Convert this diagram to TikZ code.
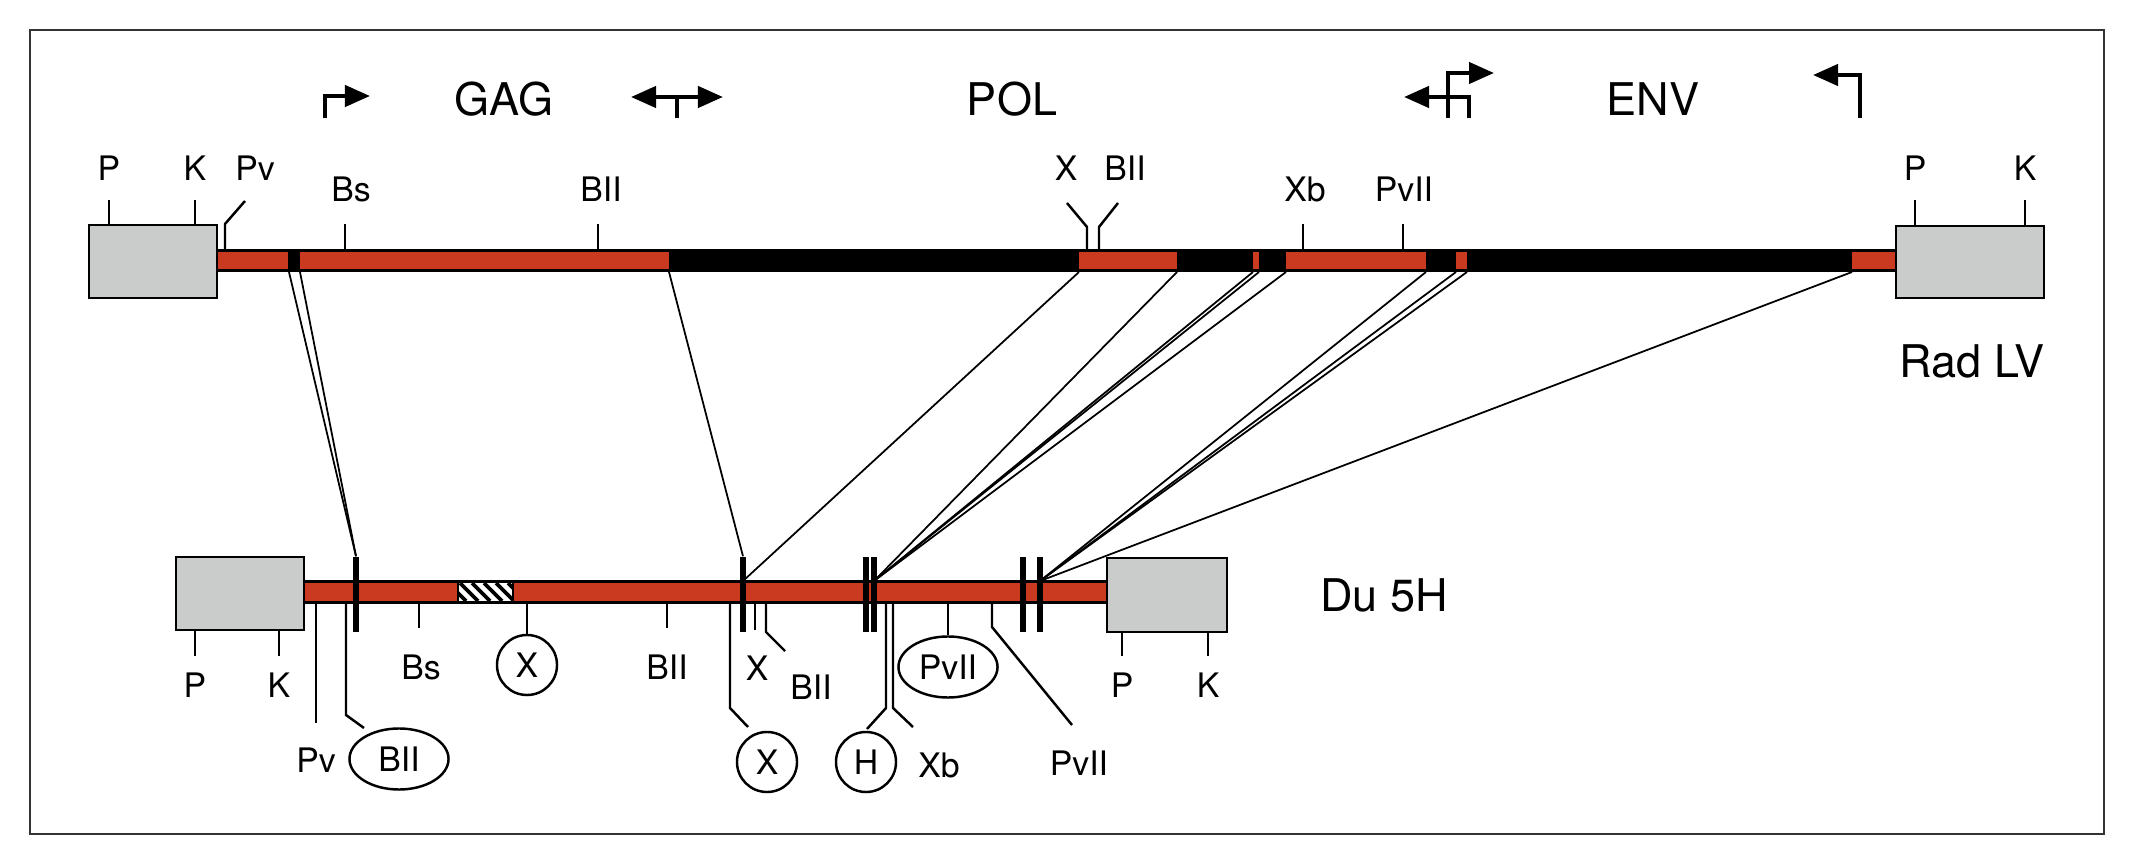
\documentclass[tikz,border=0pt]{standalone}
\usepackage{fontspec}
\setmainfont{TeX Gyre Heros}
\usetikzlibrary{arrows.meta,shapes.geometric}
\definecolor{orfred}{HTML}{C93A20}
\definecolor{ltrgray}{HTML}{C9CCCB}
\tikzset{
  ltr/.style={draw=black,line width=0.8pt,fill=ltrgray},
  site/.style={line width=0.7pt},
  link/.style={line width=0.5pt},
  cut/.style={fill=black,inner sep=0pt,minimum width=0.052cm,minimum height=0.75cm},
  lbl/.style={inner sep=0pt,font=\fontsize{9.6}{10}\selectfont},
  gene/.style={inner sep=0pt,font=\fontsize{12.8}{14}\selectfont},
  ring/.style={draw,circle,line width=0.7pt,minimum size=0.6cm,inner sep=0pt,
    font=\fontsize{9.6}{10}\selectfont},
  oval/.style={draw,ellipse,line width=0.7pt,minimum width=0.99cm,minimum height=0.61cm,
    inner sep=0pt,font=\fontsize{9.6}{10}\selectfont},
  orf/.style={line width=1.2pt,-{Triangle[length=0.25cm,width=0.21cm]}},
}
% site above the Rad LV bar: x, label x, label y, text
\newcommand{\upsite}[4]{%
  \draw[site] (#1,249) -- (#1,224);
  \node[lbl] at (#2,#3) {#4};
}
% site below the Du 5H bar: x, label x, text
\newcommand{\downsite}[3]{%
  \draw[site] (#1,604) -- (#1,628);
  \node[lbl] at (#2,667) {#3};
}

\begin{document}
\begin{tikzpicture}[x=0.01cm,y=-0.01cm]
  \useasboundingbox (0,0) rectangle (2136,864);
  \draw[line width=0.8pt,black!80] (30,30) rectangle (2104,834);

  % reading frames
  \node[gene] (gag) at (504,99) {GAG};
  \node[gene] (pol) at (1012,99) {POL};
  \node[gene] (env) at (1653,99) {ENV};
  \draw[orf] (325,118) -- (325,96) -- (370,96);
  \draw[orf] (677,118) -- (677,97) -- (631,97);
  \draw[orf] (677,97) -- (723,97);
  \draw[orf] (1469,118) -- (1469,97) -- (1404,97);
  \draw[orf] (1448,118) -- (1448,73) -- (1494,73);
  \draw[orf] (1860,118) -- (1860,75) -- (1813,75);

  % Rad LV
  \fill (217,249) rectangle (1896,272);
  \foreach \a/\b in {217/288,300/669,1079/1177,1253/1259,1286/1426,1456/1467,1852/1896}
    \fill[orfred] (\a,252) rectangle (\b,269);
  \draw[ltr] (89,225) rectangle (217,298);
  \draw[ltr] (1896,226) rectangle (2044,298);
  \node[gene] (radlv) at (1972,361) {Rad LV};
  \foreach \x/\t in {109/P,195/K,1915/P,2025/K} {
    \draw[site] (\x,225) -- (\x,200);
    \node[lbl] at (\x,168) {\t};
  }
  \draw[site] (225,249) -- (225,224) -- (245,201);
  \node[lbl] at (255,168) {Pv};
  \upsite{345}{351}{189}{Bs}
  \upsite{598}{601}{189}{BII}
  \draw[site] (1087,249) -- (1087,227) -- (1067,203);
  \draw[site] (1099,249) -- (1099,227) -- (1118,203);
  \node[lbl] at (1066,168) {X};
  \node[lbl] at (1125,168) {BII};
  \upsite{1303}{1305}{189}{Xb}
  \upsite{1403}{1404}{189}{PvII}

  % Du 5H
  \fill (304,580) rectangle (1107,604);
  \fill[orfred] (304,583) rectangle (1107,601);
  \fill[white] (458,583) rectangle (513,601);
  \begin{scope}
    \clip (458,583) rectangle (513,601);
    \foreach \i in {436,448,...,520}
      \draw[line width=1.1pt] (\i,583) -- (\i+18,601);
  \end{scope}
  \draw[line width=0.6pt] (458,582) rectangle (513,602);
  \draw[ltr] (176,557) rectangle (304,630);
  \draw[ltr] (1107,558) rectangle (1227,632);
  \node[gene] (du5h) at (1384,595) {Du 5H};
  \foreach \x/\t in {195/P,279/K,1122/P,1208/K} {
    \draw[site] (\x,631) -- (\x,656);
    \node[lbl] at (\x,685) {\t};
  }
  \draw[site] (316,604) -- (316,723);
  \node[lbl] at (316,760) {Pv};
  \node[oval] (bglo) at (399,759) {BII};
  \draw[site] (346,604) -- (346,715) -- (364,728);
  \downsite{419}{421}{Bs}
  \node[ring] (xhoa) at (527,665) {X};
  \draw[site] (527,604) -- (xhoa);
  \downsite{667}{667}{BII}
  \node[ring] (xhob) at (767,762) {X};
  \draw[site] (730,604) -- (730,708) -- (748,727);
  \draw[site] (755,604) -- (755,630);
  \node[lbl] at (757,668) {X};
  \draw[site] (766,604) -- (766,632) -- (785,651);
  \node[lbl] at (811,687) {BII};
  \node[ring] (hind) at (866,762) {H};
  \draw[site] (886,604) -- (886,708) -- (867,729);
  \draw[site] (893,604) -- (893,708) -- (913,727);
  \node[lbl] at (939,765) {Xb};
  \node[oval] (pvuo) at (948,667) {PvII};
  \draw[site] (948,604) -- (pvuo);
  \draw[site] (992,604) -- (992,627) -- (1072,725);
  \node[lbl] at (1079,763) {PvII};

  % cut points on Du 5H
  \foreach \n/\x in {c1/356,c2/743,c3/866,c4/874,c5/1023,c6/1040}
    \node[cut] (\n) at (\x,594.5) {};
  \coordinate (e2) at (743,581);
  \coordinate (e4) at (874,581);
  \coordinate (e6) at (1040,581);

  % homology links
  \foreach \n/\x in {1/289,2/300,3/669,4/1079,5/1177,6/1253,7/1259,8/1286,9/1426,10/1456,11/1467,12/1852}
    \coordinate (r\n) at (\x,272);
  \foreach \s/\e in {r1/c1.north,r2/c1.north,r3/c2.north,r4/e2,r5/e4,r6/e4,r7/e4,r8/e4,
                     r9/e6,r10/e6,r11/e6,r12/e6}
    \draw[link] (\s) -- (\e);
\end{tikzpicture}
\end{document}
